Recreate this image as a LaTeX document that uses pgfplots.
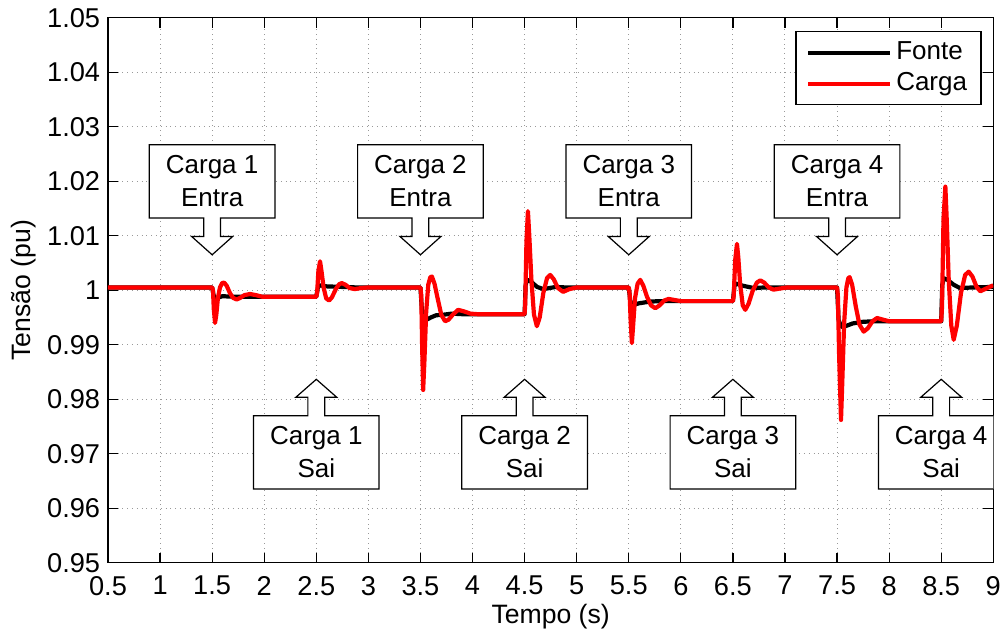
\documentclass[border=0pt]{standalone}
\usepackage{fontspec}
\setmainfont{Liberation Sans}
\usepackage{pgfplots}
\pgfplotsset{compat=1.18}
\newcommand{\entra}[2]{%
  \draw[fill=white, line width=0.6pt] (axis cs:#1,1.0065) -- ++(-10.25pt,9.15pt) -- ++(6.05pt,0pt) -- ++(0pt,9.2pt) -- ++(-27.2pt,0pt) -- ++(0pt,36.65pt) -- ++(62.8pt,0pt) -- ++(0pt,-36.65pt) -- ++(-27.2pt,0pt) -- ++(0pt,-9.2pt) -- ++(6.05pt,0pt) -- cycle;
  \node[align=center, yshift=36.7pt, inner sep=0pt] at (axis cs:#1,1.0065) {Carga #2\\Entra};
}
\newcommand{\sai}[2]{%
  \draw[fill=white, line width=0.6pt] (axis cs:#1,0.98365) -- ++(-10.25pt,-9pt) -- ++(6.05pt,0pt) -- ++(0pt,-9.2pt) -- ++(-27.2pt,0pt) -- ++(0pt,-36.65pt) -- ++(62.8pt,0pt) -- ++(0pt,36.65pt) -- ++(-27.2pt,0pt) -- ++(0pt,9.2pt) -- ++(6.05pt,0pt) -- cycle;
  \node[align=center, yshift=-36.5pt, inner sep=0pt] at (axis cs:#1,0.98365) {Carga #2\\Sai};
}
\begin{document}
\begin{tikzpicture}[font=\fontsize{13pt}{16.5pt}\selectfont]
\useasboundingbox (-54pt,-35.65pt) rectangle (447.5pt,281.35pt);
\begin{axis}[
  scale only axis,
  width=442.65pt, height=272.5pt,
  xmin=0.5, xmax=9, ymin=0.95, ymax=1.05,
  xtick={0.5,1,1.5,2,2.5,3,3.5,4,4.5,5,5.5,6,6.5,7,7.5,8,8.5,9},
  xticklabels={0.5,1,1.5,2,2.5,3,3.5,4,4.5,5,5.5,6,6.5,7,7.5,8,8.5,9},
  ytick={0.95,0.96,0.97,0.98,0.99,1,1.01,1.02,1.03,1.04,1.05},
  yticklabels={0.95,0.96,0.97,0.98,0.99,1,1.01,1.02,1.03,1.04,1.05},
  tick label style={font=\fontsize{13.6pt}{16pt}\selectfont},
  xticklabel style={yshift=-3.2pt},
  yticklabel style={xshift=-0.4pt},
  major tick length=5pt,
  tick style={black, line width=0.6pt},
  axis line style={line width=0.6pt},
  grid=major,
  major grid style={dotted, gray!80, line width=0.5pt},
  xlabel={Tempo (s)}, ylabel={Tensão (pu)},
  label style={font=\fontsize{13.3pt}{16pt}\selectfont},
  xlabel style={at={(axis description cs:0.5,-0.0985)}, anchor=center},
  ylabel style={at={(axis description cs:-0.0955,0.5)}, anchor=center},
  legend style={at={(1,1)}, anchor=north east, xshift=-5.8pt, yshift=-6.65pt, draw=black, line width=0.6pt, inner xsep=5pt, inner ysep=3pt, row sep=0.5pt, nodes={text height=9.5pt, text depth=2.5pt, inner ysep=1.5pt}},
  legend cell align=left,
  legend image code/.code={\draw[#1] (0pt,0pt) -- (41pt,0pt);},
]
\addplot[black, line width=2.1pt, line join=round] coordinates {
(0.5,1.0005) (1.5,1.0005) (1.515,0.9990) (1.53,0.9985) (1.6,0.9989) (1.7,0.9988) (2.5,0.9988)
(2.515,1.0005) (2.53,1.0009) (2.6,1.0007) (2.75,1.0006) (2.9,1.0005) (3.5,1.0005)
(3.515,0.9960) (3.53,0.9947) (3.56,0.9946) (3.6,0.9950) (3.65,0.9954) (3.72,0.9955) (3.8,0.9957) (3.9,0.9956) (4.5,0.9956)
(4.51,1.0010) (4.525,1.0019) (4.56,1.0016) (4.62,1.0006) (4.68,1.0002) (4.8,1.0006) (4.9,1.0005) (5.5,1.0005)
(5.515,0.9980) (5.54,0.9973) (5.6,0.9976) (5.7,0.9979) (5.8,0.9980) (6.5,0.9980)
(6.515,1.0008) (6.53,1.0012) (6.6,1.0008) (6.7,1.0004) (6.8,1.0005) (7.5,1.0005)
(7.515,0.9945) (7.54,0.9933) (7.58,0.9934) (7.65,0.9939) (7.75,0.9942) (7.85,0.9943) (8.5,0.9943)
(8.51,1.0010) (8.525,1.0022) (8.56,1.0019) (8.62,1.0010) (8.68,1.0004) (8.8,1.0005) (9,1.0006)
};
\addlegendentry{Fonte}
\addplot[red, line width=2.1pt, line join=round] coordinates {
(0.5,1.0005) (1.500,1.0005) (1.508,1.0000) (1.516,0.9965) (1.528,0.9940) (1.540,0.9955) (1.555,0.9985) (1.575,1.0005) (1.595,1.0013) (1.615,1.0014) (1.640,1.0008) (1.670,0.9995) (1.700,0.9986) (1.736,0.9983) (1.770,0.9986) (1.810,0.9991) (1.864,0.9993) (1.920,0.9991) (1.980,0.9988) (2.050,0.9988) (2.500,0.9988)
(2.508,0.9995) (2.520,1.0035) (2.536,1.0053) (2.550,1.0035) (2.570,1.0005) (2.595,0.9985) (2.623,0.9981) (2.650,0.9987) (2.690,1.0003) (2.720,1.0011) (2.745,1.0013) (2.780,1.0010) (2.820,1.0004) (2.870,1.0002) (2.930,1.0004) (3.000,1.0005) (3.500,1.0005)
(3.508,0.9990) (3.516,0.9900) (3.526,0.9817) (3.538,0.9870) (3.555,0.9960) (3.575,1.0010) (3.595,1.0024) (3.610,1.0025) (3.635,1.0012) (3.665,0.9985) (3.700,0.9955) (3.737,0.9943) (3.770,0.9946) (3.810,0.9955) (3.862,0.9964) (3.920,0.9961) (3.980,0.9957) (4.050,0.9956) (4.500,0.9956)
(4.506,0.9975) (4.518,1.0090) (4.532,1.0145) (4.545,1.0100) (4.565,1.0020) (4.590,0.9955) (4.618,0.9934) (4.645,0.9950) (4.680,0.9995) (4.715,1.0022) (4.746,1.0028) (4.780,1.0020) (4.820,1.0004) (4.870,0.9997) (4.930,1.0002) (5.000,1.0005) (5.500,1.0005)
(5.508,0.9995) (5.518,0.9945) (5.530,0.9903) (5.542,0.9935) (5.560,0.9985) (5.585,1.0012) (5.611,1.0019) (5.640,1.0008) (5.675,0.9988) (5.715,0.9972) (5.755,0.9967) (5.795,0.9972) (5.840,0.9981) (5.882,0.9984) (5.940,0.9982) (6.000,0.9980) (6.500,0.9980)
(6.508,0.9990) (6.522,1.0055) (6.539,1.0085) (6.552,1.0060) (6.570,1.0010) (6.595,0.9972) (6.619,0.9964) (6.650,0.9975) (6.690,0.9999) (6.730,1.0014) (6.763,1.0018) (6.800,1.0014) (6.845,1.0005) (6.890,1.0001) (6.950,1.0003) (7.020,1.0005) (7.500,1.0005)
(7.508,0.9990) (7.520,0.9880) (7.538,0.9762) (7.550,0.9830) (7.568,0.9940) (7.590,1.0005) (7.608,1.0022) (7.621,1.0024) (7.645,1.0010) (7.680,0.9970) (7.715,0.9937) (7.756,0.9924) (7.795,0.9930) (7.840,0.9943) (7.884,0.9949) (7.940,0.9946) (8.000,0.9943) (8.500,0.9943)
(8.508,0.9970) (8.522,1.0130) (8.540,1.0190) (8.553,1.0130) (8.572,1.0020) (8.597,0.9935) (8.620,0.9909) (8.650,0.9935) (8.690,0.9995) (8.730,1.0028) (8.764,1.0034) (8.800,1.0025) (8.840,1.0006) (8.876,0.9998) (8.930,1.0003) (9.000,1.0009)
};
\addlegendentry{Carga}
\entra{1.5}{1}
\entra{3.5}{2}
\entra{5.5}{3}
\entra{7.5}{4}
\sai{2.5}{1}
\sai{4.5}{2}
\sai{6.5}{3}
\sai{8.5}{4}
\end{axis}
\end{tikzpicture}
\end{document}
